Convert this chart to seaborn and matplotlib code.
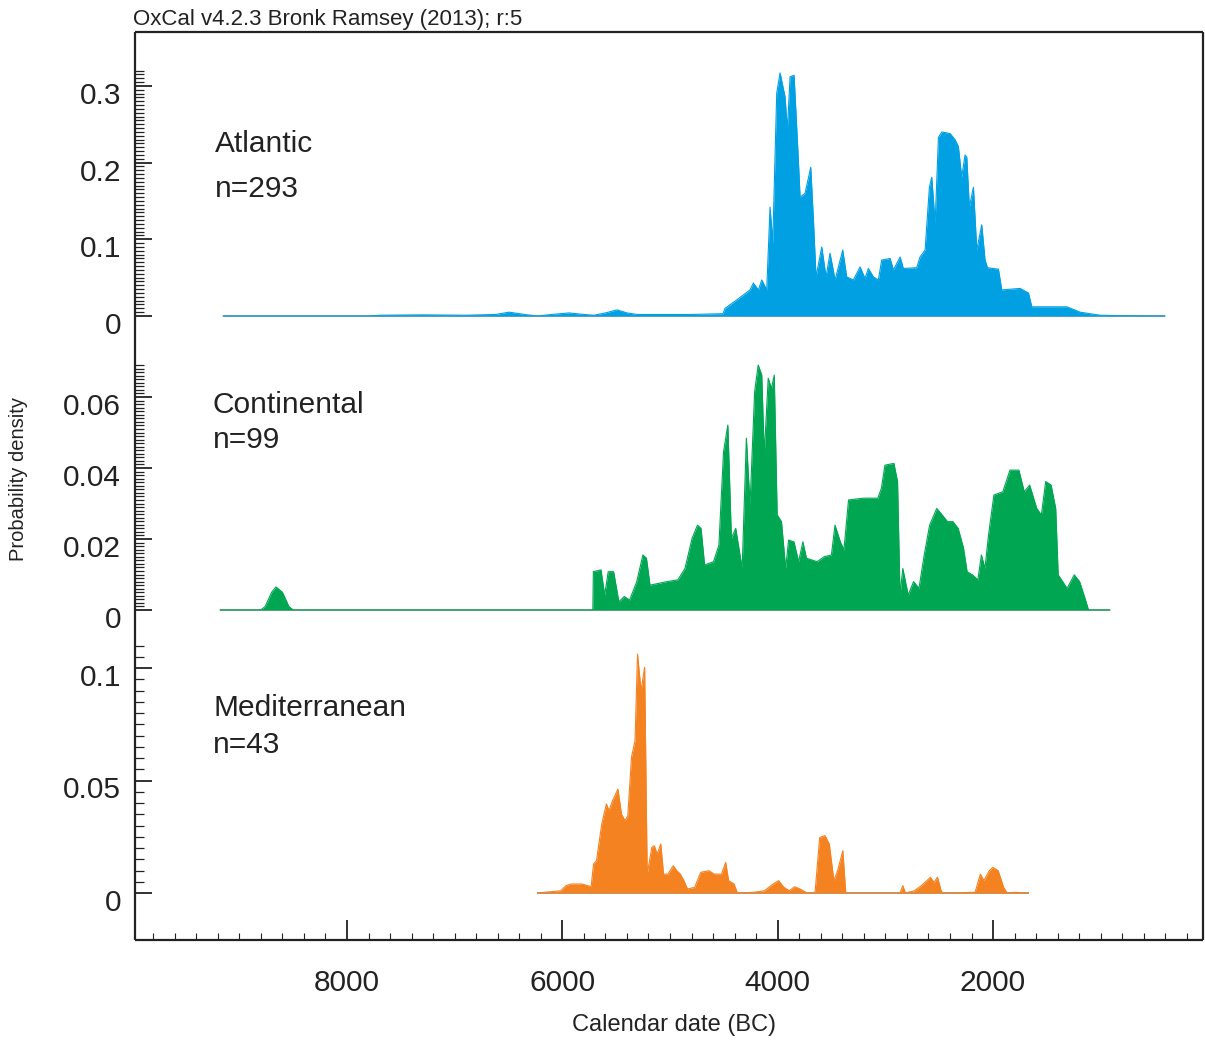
import numpy as np
import matplotlib
matplotlib.use("Agg")
import matplotlib.pyplot as plt
import seaborn as sns
from matplotlib.ticker import FixedLocator
from matplotlib.transforms import ScaledTranslation

sns.set_style("ticks")
plt.rcParams['font.family'] = ['Liberation Sans', 'DejaVu Sans']

# ---- data (years BC, summed probability density) ----
atl_year = [9152, 7800, 7693, 7300, 6900, 6620, 6495, 6350, 6235, 6100,
            5938, 5800, 5706, 5600, 5492, 5400, 5306, 4800, 4508,
            4489, 4380, 4257, 4226, 4179, 4148, 4102, 4071, 4046, 4009,
            3978, 3932, 3910, 3885, 3848, 3808, 3792, 3746, 3693, 3668,
            3644, 3591, 3551, 3514, 3467, 3396, 3359, 3297, 3235, 3189,
            3158, 3111, 3065, 3034, 2956, 2925, 2863, 2833, 2709, 2678,
            2631, 2591, 2569, 2538, 2507, 2476, 2399, 2353, 2322, 2291,
            2260, 2244, 2220, 2182, 2151, 2105, 2074, 2052, 1950, 1919,
            1749, 1671, 1640, 1315, 1192, 1006, 800, 402]
atl_dens = [0, 0, 0.001, 0.0015, 0.001, 0.002, 0.005, 0.002, 0.0, 0.002,
            0.004, 0.002, 0.001, 0.004, 0.008, 0.004, 0.002, 0.002, 0.003,
            0.010, 0.021, 0.034, 0.043, 0.034, 0.047, 0.034, 0.142, 0.095, 0.291,
            0.317, 0.286, 0.243, 0.312, 0.314, 0.203, 0.155, 0.160, 0.194, 0.125,
            0.051, 0.090, 0.051, 0.082, 0.047, 0.086, 0.051, 0.047, 0.064, 0.049,
            0.062, 0.051, 0.047, 0.073, 0.075, 0.060, 0.077, 0.062, 0.063, 0.077,
            0.086, 0.168, 0.181, 0.121, 0.233, 0.240, 0.238, 0.230, 0.221, 0.181,
            0.210, 0.207, 0.142, 0.168, 0.086, 0.119, 0.073, 0.063, 0.061, 0.034,
            0.036, 0.030, 0.012, 0.012, 0.005, 0.001, 0.0003, 0]

con_year = [9180, 8800, 8760, 8700, 8660, 8600, 8540, 8500, 5717, 5712,
            5641, 5607, 5574, 5524, 5475, 5425, 5375, 5309, 5252, 5219,
            5186, 5027, 4927, 4861, 4795, 4745, 4712, 4679, 4596, 4546,
            4503, 4463, 4430, 4390, 4330, 4291, 4257, 4214, 4181, 4148,
            4125, 4088, 4058, 4032, 4005, 3965, 3926, 3899, 3849, 3806,
            3766, 3733, 3634, 3568, 3501, 3468, 3418, 3385, 3342, 3203,
            3070, 3037, 3004, 2921, 2887, 2864, 2838, 2788, 2738, 2688,
            2639, 2589, 2523, 2473, 2423, 2373, 2324, 2274, 2241, 2191,
            2141, 2108, 2075, 2042, 1992, 1909, 1843, 1760, 1710, 1660,
            1594, 1551, 1511, 1461, 1418, 1395, 1312, 1246, 1196, 1146,
            1113, 913]
con_dens = [0, 0, 0.001, 0.005, 0.0065, 0.005, 0.001, 0, 0, 0.0108,
            0.0113, 0.0042, 0.0108, 0.0108, 0.0023, 0.0038, 0.0028, 0.008, 0.0155, 0.0146,
            0.0070, 0.008, 0.0085, 0.0117, 0.0202, 0.0239, 0.023, 0.0127, 0.0136, 0.0183,
            0.0446, 0.0521, 0.0202, 0.023, 0.0117, 0.0484, 0.0296, 0.0615, 0.069, 0.0662,
            0.0437, 0.0653, 0.0624, 0.0662, 0.0268, 0.0249, 0.0117, 0.0197, 0.0192, 0.0136,
            0.0192, 0.0146, 0.0136, 0.0150, 0.0155, 0.0239, 0.0192, 0.0169, 0.031, 0.0315,
            0.0315, 0.0343, 0.0408, 0.0413, 0.0362, 0.0042, 0.0117, 0.0042, 0.008, 0.0061,
            0.0155, 0.0239, 0.0286, 0.0268, 0.0249, 0.0249, 0.023, 0.0174, 0.0108, 0.0099,
            0.0085, 0.0155, 0.0117, 0.0211, 0.0324, 0.0333, 0.0394, 0.0394, 0.0333, 0.0352,
            0.0286, 0.0268, 0.0362, 0.0352, 0.0286, 0.0099, 0.0061, 0.0099, 0.008, 0.0033,
            0, 0]

med_year = [6231, 6015, 5965, 5916, 5816, 5733, 5710, 5683, 5634, 5591,
            5567, 5534, 5484, 5451, 5418, 5392, 5358, 5325, 5302, 5269,
            5236, 5212, 5169, 5146, 5120, 5086, 5060, 5020, 4970, 4937,
            4904, 4871, 4838, 4771, 4715, 4639, 4589, 4522, 4483, 4456,
            4406, 4373, 4224, 4124, 4042, 3992, 3942, 3892, 3843, 3793,
            3726, 3653, 3610, 3561, 3521, 3478, 3444, 3395, 3368, 2864,
            2838, 2814, 2731, 2665, 2615, 2582, 2549, 2516, 2482, 2466,
            2167, 2118, 2085, 2035, 2002, 1952, 1902, 1869, 1803, 1670]
med_dens = [0, 0.001, 0.0033, 0.004, 0.004, 0.0028, 0.0129, 0.0144, 0.0307, 0.0396,
            0.0366, 0.041, 0.0462, 0.0351, 0.0321, 0.0344, 0.0603, 0.0677, 0.1062, 0.0899,
            0.1003, 0.0084, 0.0203, 0.021, 0.0173, 0.0218, 0.0084, 0.0084, 0.0121, 0.0099,
            0.0084, 0.0055, 0.0018, 0.0025, 0.0092, 0.0099, 0.0084, 0.0084, 0.0136, 0.0055,
            0.004, 0, 0.0003, 0.001, 0.004, 0.0055, 0.0025, 0.001, 0.0028, 0.0018,
            0, 0.0003, 0.0247, 0.0255, 0.0218, 0.0055, 0.0099, 0.0188, 0, 0,
            0.0033, 0, 0.001, 0.0033, 0.0055, 0.007, 0.0047, 0.007, 0.001, 0,
            0.0003, 0.0084, 0.0055, 0.0099, 0.0114, 0.0099, 0.0025, 0, 0.0003, 0]

atl_ticks, atl_ticklabels = [0, 0.1, 0.2, 0.3], ["0", "0.1", "0.2", "0.3"]
con_ticks, con_ticklabels = [0, 0.02, 0.04, 0.06], ["0", "0.02", "0.04", "0.06"]
med_ticks, med_ticklabels = [0, 0.05, 0.1], ["0", "0.05", "0.1"]
x_ticks = [8000, 6000, 4000, 2000]
x_ticklabels = ["8000", "6000", "4000", "2000"]

for a, b in [(atl_year, atl_dens), (con_year, con_dens), (med_year, med_dens)]:
    assert len(a) == len(b), (len(a), len(b))

# ---- layout (pixel based) ----
W, H = 1205, 1043
LEFT, RIGHT = 135, 1203
INK = "#222222"
fig = plt.figure(figsize=(W / 100, H / 100), dpi=100)

panels = [
    dict(name="Atlantic", n="n=293", x=atl_year, y=atl_dens, color="#00a0e3",
         ticks=atl_ticks, labels=atl_ticklabels, minor=0.005, minor_top=0.32,
         top=32, bottom=345, zero=316, scale=766.7, txt=(215, 152, 197)),
    dict(name="Continental", n="n=99", x=con_year, y=con_dens, color="#00a651",
         ticks=con_ticks, labels=con_ticklabels, minor=0.001, minor_top=0.069,
         top=345, bottom=640, zero=610, scale=3550.0, txt=(213, 413, 448)),
    dict(name="Mediterranean", n="n=43", x=med_year, y=med_dens, color="#f58220",
         ticks=med_ticks, labels=med_ticklabels, minor=0.005, minor_top=0.11,
         top=640, bottom=940, zero=893, scale=2250.0, txt=(213, 716, 753)),
]

label_shift = ScaledTranslation(0, -7 / 100, fig.dpi_scale_trans)

for i, p in enumerate(panels):
    ax = fig.add_axes([LEFT / W, 1 - p["bottom"] / H, (RIGHT - LEFT) / W,
                       (p["bottom"] - p["top"]) / H])
    ax.patch.set_alpha(0)
    xs = np.array(p["x"], dtype=float)
    ys = np.array(p["y"], dtype=float)

    ax.hlines(0, xs.min(), xs.max(), color="#999999", lw=1.3, zorder=1)
    ax.fill_between(xs, 0, ys, color=p["color"], lw=0, zorder=2)
    sns.lineplot(x=xs, y=ys, ax=ax, color=p["color"], lw=0.8, zorder=3)

    ax.set_xlim(9969, 50)
    ax.set_ylim((p["zero"] - p["bottom"]) / p["scale"], (p["zero"] - p["top"]) / p["scale"])
    ax.set_xlabel("")
    ax.set_ylabel("")

    # y axis
    ax.set_yticks(p["ticks"], p["labels"])
    ax.yaxis.set_minor_locator(FixedLocator(np.arange(0, p["minor_top"] + 1e-9, p["minor"])))
    ax.tick_params(axis="y", which="major", direction="in", length=12.5, width=1.3,
                   pad=10, labelsize=21.5, colors=INK, right=False)
    ax.tick_params(axis="y", which="minor", direction="in", length=6.5, width=0.9,
                   colors=INK, right=False)
    for t in ax.yaxis.get_major_ticks():
        t.label1.set_transform(t.label1.get_transform() + label_shift)

    # x axis only on the bottom panel
    if i == len(panels) - 1:
        ax.set_xticks(x_ticks, x_ticklabels)
        ax.xaxis.set_minor_locator(FixedLocator(np.arange(200, 9801, 200)))
        ax.tick_params(axis="x", which="major", direction="in", length=14.5, width=1.3,
                       pad=21, labelsize=21.5, colors=INK, top=False)
        ax.tick_params(axis="x", which="minor", direction="in", length=5, width=0.8,
                       colors=INK, top=False)
    else:
        ax.tick_params(axis="x", which="both", bottom=False, top=False, labelbottom=False)

    for side, sp in ax.spines.items():
        sp.set_color(INK)
        sp.set_linewidth(1.6)
        sp.set_capstyle("butt")
    ax.spines["top"].set_visible(i == 0)
    ax.spines["bottom"].set_visible(i == len(panels) - 1)

    tx, b1, b2 = p["txt"]
    fig.text(tx / W, 1 - b1 / H, p["name"], fontsize=21.5, va="baseline", color=INK)
    fig.text(tx / W, 1 - b2 / H, p["n"], fontsize=21.5, va="baseline", color=INK)

fig.text(133 / W, 1 - 25 / H, "OxCal v4.2.3 Bronk Ramsey (2013); r:5",
         fontsize=16, va="baseline", color=INK)
fig.text(19 / W, 1 - 479 / H, "Probability density", rotation=90,
         ha="center", va="center", fontsize=14.5, color=INK)
fig.text(674 / W, 1 - 1025 / H, "Calendar date (BC)", ha="center", va="center",
         fontsize=17, color=INK)

fig.savefig("out.png", dpi=100)
